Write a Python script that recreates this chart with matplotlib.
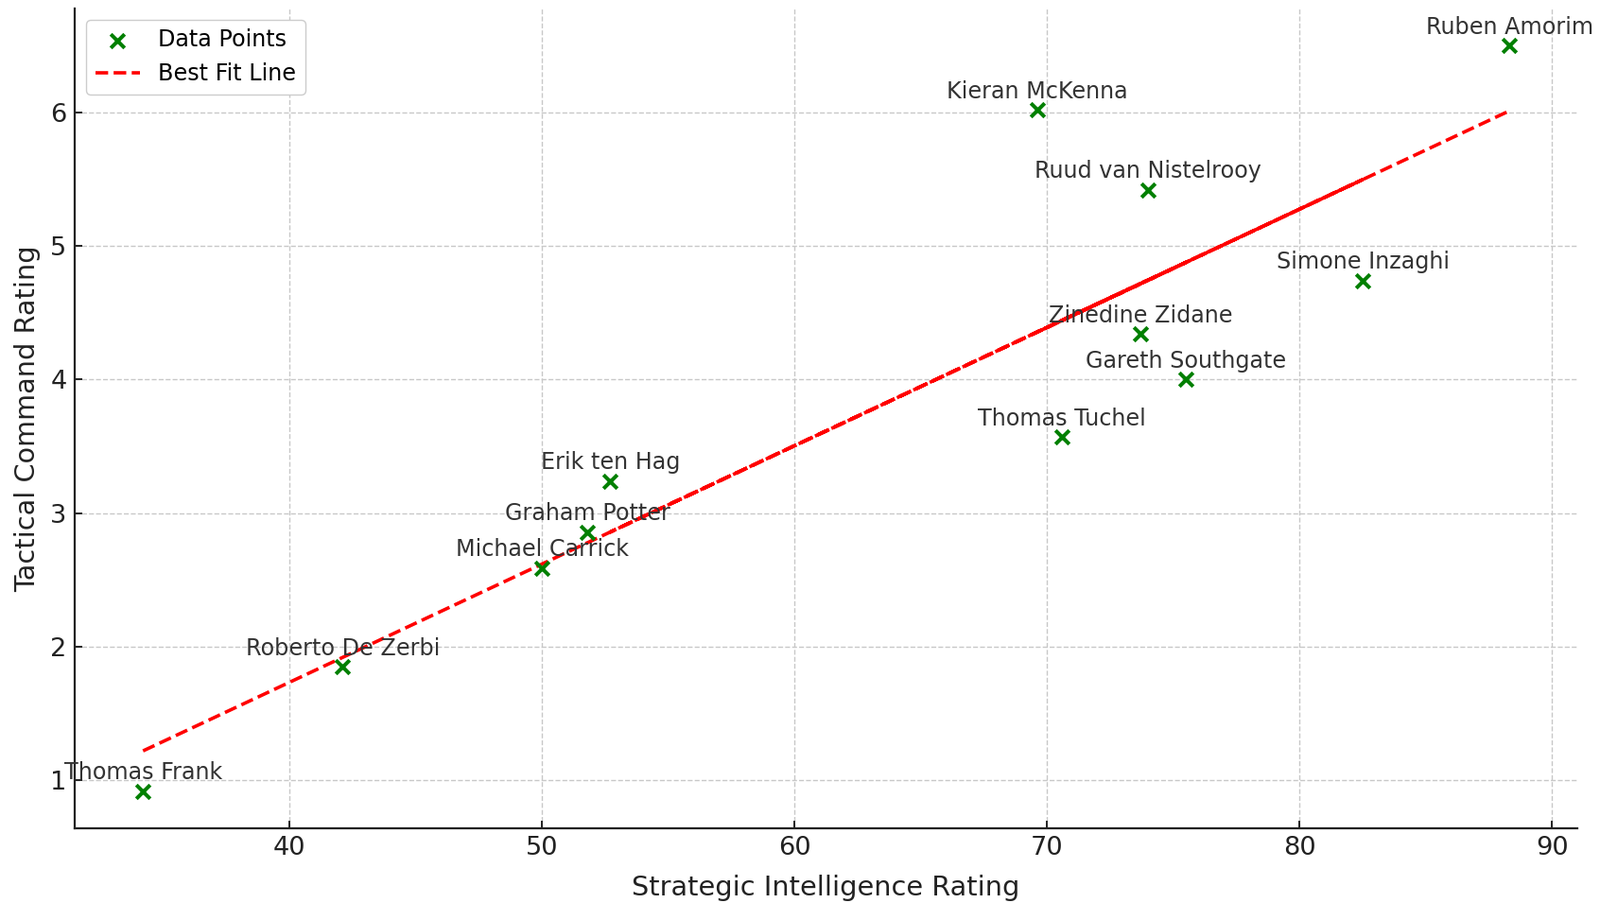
import numpy as np
import matplotlib
matplotlib.use("Agg")
import matplotlib.pyplot as plt

# Data (plotting order matters for how the fit line overlaps itself)
managers = ["Thomas Frank", "Roberto De Zerbi", "Michael Carrick", "Graham Potter",
            "Simone Inzaghi", "Erik ten Hag", "Gareth Southgate", "Kieran McKenna",
            "Ruud van Nistelrooy", "Thomas Tuchel", "Zinedine Zidane", "Ruben Amorim"]
strategic = [34.2, 42.1, 50.0, 51.8, 82.5, 52.7, 75.5, 69.6, 74.0, 70.6, 73.7, 88.3]
tactical = [0.92, 1.85, 2.59, 2.86, 4.74, 3.24, 4.00, 6.02, 5.42, 3.57, 4.34, 6.50]

x = np.array(strategic)
y = np.array(tactical)
slope, intercept = np.polyfit(x, y, 1)
fit = slope * x + intercept

fig = plt.figure(figsize=(16.92, 9.55), dpi=100)
ax = fig.add_axes([0.0467, 0.0827, 0.9393, 0.908])

ax.grid(True, linestyle="--", color="#c8c8c8", linewidth=1.0)
ax.set_axisbelow(True)

ax.scatter(x, y, marker="x", color="green", s=110, linewidths=2.9, label="Data Points", zorder=3)
ax.plot(x, fit, color="red", linestyle="--", linewidth=2.6, label="Best Fit Line", zorder=2)

for name, xi, yi in zip(managers, x, y):
    ax.annotate(name, (xi, yi), xytext=(0, 9), textcoords="offset points",
                ha="center", fontsize=17.2, color="#333333")

ax.set_xlabel("Strategic Intelligence Rating", fontsize=20.7, color="#222222", labelpad=10.5)
ax.set_ylabel("Tactical Command Rating", fontsize=20.7, color="#222222", labelpad=7)

ax.spines["top"].set_visible(False)
ax.spines["right"].set_visible(False)
for s in ("left", "bottom"):
    ax.spines[s].set_linewidth(1.6)
    ax.spines[s].set_color("#222222")
ax.tick_params(axis="both", direction="in", labelsize=19.6, length=6, width=1.4,
               colors="#222222", pad=6)

ax.legend(loc="upper left", fontsize=17.2, framealpha=1.0, edgecolor="#cccccc")

fig.savefig("out.png", dpi=100)
